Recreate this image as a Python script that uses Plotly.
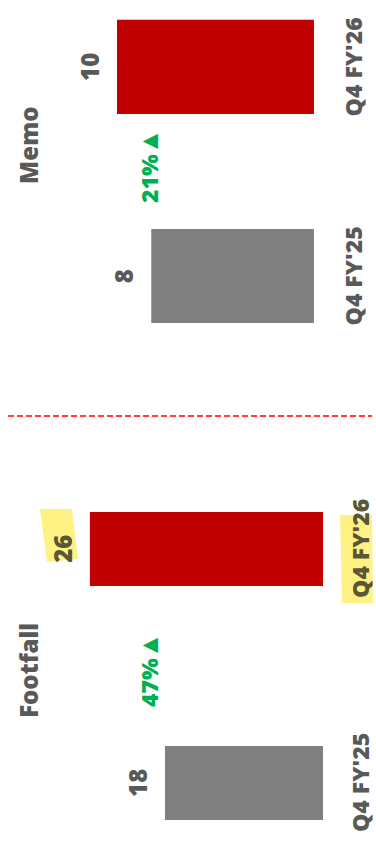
import plotly.graph_objects as go

# ---- data ----
periods = ["Q4 FY'25", "Q4 FY'26"]
memo_values = [8.26, 10.0]
footfall_values = [17.9, 26.4]
panel_names = ["Memo", "Footfall"]

W, H = 376, 856
GRAY_TXT = "#595959"
HL_TXT = "#5A5636"
BAR_COLORS = ["#808080", "#C00000"]
GREEN = "#00B050"
FONT = "Open Sans"


def px(x, y):
    return x / W, 1 - y / H


fig = go.Figure()
fig.add_trace(go.Bar(y=periods, x=memo_values, orientation="h",
                     marker=dict(color=BAR_COLORS, line=dict(width=0)),
                     width=0.45, xaxis="x", yaxis="y", hoverinfo="skip"))
fig.add_trace(go.Bar(y=periods, x=footfall_values, orientation="h",
                     marker=dict(color=BAR_COLORS, line=dict(width=0)),
                     width=0.316, xaxis="x2", yaxis="y2", hoverinfo="skip"))

annotations = []
panels = [("x", "y", memo_values, 0.622, 0.526),
          ("x2", "y2", footfall_values, 0.479, 0.483)]
label_x = [352.5, 360]
for i, (xr, yr, vals, title_y, pct_y) in enumerate(panels):
    for j, (p, v) in enumerate(zip(periods, vals)):
        highlighted = (i == 1 and j == 1)
        col = HL_TXT if highlighted else GRAY_TXT
        annotations.append(dict(
            x=v, y=p, xref=xr, yref=yr, text=f"{round(v)}", textangle=-90,
            xanchor="center", yanchor="middle", xshift=-27, showarrow=False,
            font=dict(family=FONT, size=24, color=col, weight=800)))
        annotations.append(dict(
            x=label_x[i] / W, y=p, xref="paper", yref=yr, text=p, textangle=-90,
            xanchor="center", yanchor="middle", showarrow=False,
            font=dict(family=FONT, size=23, color=col, weight=800)))
    annotations.append(dict(
        x=29 / W, y=title_y, xref="paper", yref=yr, text=panel_names[i],
        textangle=-90, xanchor="center", yanchor="middle", showarrow=False,
        font=dict(family=FONT, size=24, color=GRAY_TXT, weight=800)))
    pct = (vals[1] - vals[0]) / vals[0] * 100
    annotations.append(dict(
        x=148 / W, y=pct_y, xref="paper", yref=yr,
        text=f"{pct:.0f}%<span style='font-size:26px'>▲</span>",
        textangle=-90, xanchor="center", yanchor="middle", showarrow=False,
        font=dict(family=FONT, size=23, color=GREEN, weight=800)))

# divider
x0, y0 = px(8, 416)
x1, _ = px(372, 416)
shapes = [dict(type="line", xref="paper", yref="paper", x0=x0, x1=x1, y0=y0, y1=y0,
               line=dict(color="#FF0000", width=1.5, dash="6px,3px"))]


def poly(pts):
    s = ""
    for k, (a, b) in enumerate(pts):
        u, v = px(a, b)
        s += ("M" if k == 0 else "L") + f"{u:.5f},{v:.5f} "
    return s + "Z"


hl = "rgba(255,240,110,0.85)"
shapes.append(dict(type="path", xref="paper", yref="paper", layer="below",
                   path=poly([(40, 509), (72, 509), (78, 559), (47, 562)]),
                   fillcolor=hl, line=dict(width=0)))
shapes.append(dict(type="path", xref="paper", yref="paper", layer="below",
                   path=poly([(340, 515), (372, 515), (373, 603), (342, 603)]),
                   fillcolor=hl, line=dict(width=0)))

axis_common = dict(showgrid=False, zeroline=False, showticklabels=False,
                   showline=False, ticks="")
fig.update_layout(
    width=W, height=H, margin=dict(l=0, r=0, t=0, b=0),
    paper_bgcolor="white", plot_bgcolor="rgba(0,0,0,0)",
    showlegend=False, barmode="overlay",
    xaxis=dict(domain=[0, 1], range=[15.94, -3.15], anchor="y", **axis_common),
    yaxis=dict(domain=[1 - 416 / H, 1], range=[-0.67, 1.32], type="category",
               categoryorder="array", categoryarray=periods, anchor="x", **axis_common),
    xaxis2=dict(domain=[0, 1], range=[36.58, -6.0], anchor="y2", **axis_common),
    yaxis2=dict(domain=[0, 1 - 416 / H], range=[-0.312, 1.568], type="category",
                categoryorder="array", categoryarray=periods, anchor="x2", **axis_common),
    annotations=annotations, shapes=shapes,
)
fig.write_html("out.html")
